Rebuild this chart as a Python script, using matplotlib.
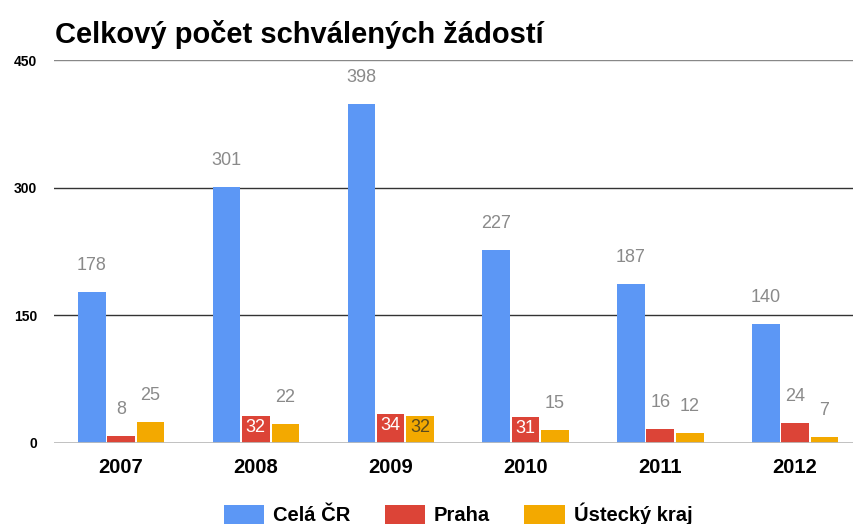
import numpy as np
import matplotlib
matplotlib.use('Agg')
import matplotlib.pyplot as plt
from matplotlib.patches import Patch

plt.rcParams['font.family'] = ['Liberation Sans', 'DejaVu Sans']

years = ['2007', '2008', '2009', '2010', '2011', '2012']
cela_cr = [178, 301, 398, 227, 187, 140]
praha = [8, 32, 34, 31, 16, 24]
ustecky = [25, 22, 32, 15, 12, 7]
series_names = ['Celá ČR', 'Praha', 'Ústecký kraj']
colors = ['#5c97f5', '#dc4437', '#f3a900']
inside_colors = [None, '#ffffff', '#5a4a1e']
yticks = [0, 150, 300, 450]

fig = plt.figure(figsize=(8.54, 5.24), dpi=100)
W, H = 854, 524
ax = fig.add_axes([53.6 / W, 1 - 443 / H, 808.8 / W, 383 / H])

x = np.arange(len(years))
width = 0.205
offsets = [-0.217, 0.0, 0.219]

for i, vals in enumerate([cela_cr, praha, ustecky]):
    bars = ax.bar(x + offsets[i], vals, width, color=colors[i], zorder=3,
                  label=series_names[i])
    for b, v in zip(bars, vals):
        cx = b.get_x() + b.get_width() / 2
        if i > 0 and v >= 30:
            # label fits inside the bar
            ax.annotate(str(v), (cx, v), xytext=(0, -8.5), textcoords='offset points',
                        ha='center', va='center', fontsize=13,
                        color=inside_colors[i], zorder=4)
        else:
            ax.annotate(str(v), (cx, v), xytext=(0, 19), textcoords='offset points',
                        ha='center', va='center', fontsize=13, color='#8a8a8a',
                        zorder=4)

ax.set_xlim(-0.5, len(years) - 0.5)
ax.set_ylim(0, 450)
ax.set_yticks(yticks)
ax.set_yticklabels([str(t) for t in yticks], fontsize=10, fontweight='bold')
ax.set_xticks(x)
ax.set_xticklabels(years, fontsize=14.5, fontweight='bold')
ax.tick_params(axis='both', length=0)
ax.tick_params(axis='y', pad=12)
ax.tick_params(axis='x', pad=11)

for t, c in [(150, '#333333'), (300, '#333333'), (450, '#888888')]:
    ax.axhline(t, color=c, lw=1, zorder=1)
ax.axhline(0, color='#bbbbbb', lw=2, zorder=5)

for s in ax.spines.values():
    s.set_visible(False)

handles = [Patch(facecolor=c, label=n) for c, n in zip(colors, series_names)]
leg = ax.legend(handles=handles, loc='center', bbox_to_anchor=(0.5, -0.185),
                ncol=3, frameon=False, handlelength=2.0, handleheight=1.1,
                columnspacing=1.7, handletextpad=0.45,
                prop={'size': 14.5, 'weight': 'bold'})

fig.text(55 / W, 1 - 43 / H, 'Celkový počet schválených žádostí', fontsize=21,
         fontweight='bold', ha='left', va='baseline')

fig.savefig('out.png', dpi=100)
